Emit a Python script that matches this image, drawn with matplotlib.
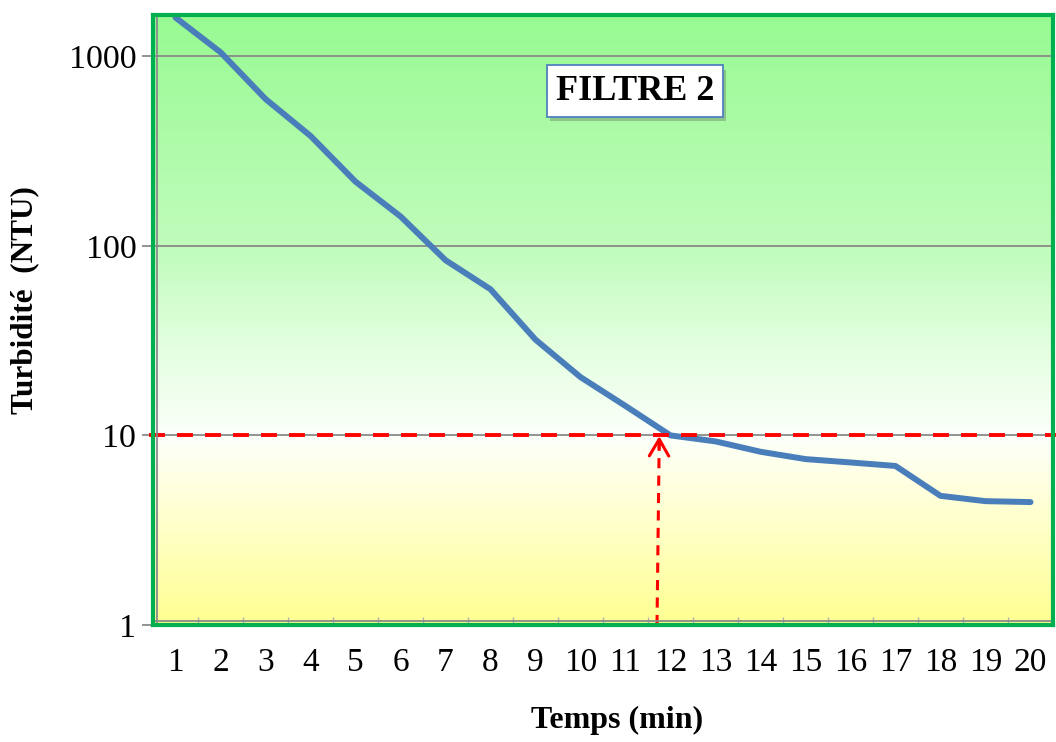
import numpy as np
import matplotlib
matplotlib.use("Agg")
import matplotlib.pyplot as plt
from matplotlib.colors import LinearSegmentedColormap
import matplotlib.patheffects as pe

# Turbidity measured at the outlet of filter 2
minutes = list(range(1, 21))
turbidity = [1600, 1050, 595, 380, 218, 143, 84, 59, 32, 20.3,
             14.3, 10.0, 9.3, 8.2, 7.5, 7.2, 6.9, 4.8, 4.5, 4.45]
y_ticks = [1, 10, 100, 1000]
threshold = 10          # NTU limit
threshold_time = 11.7   # time the limit is reached

plt.rcParams['font.family'] = ['Liberation Serif', 'DejaVu Serif']

fig = plt.figure(figsize=(10.56, 7.42), dpi=100)
ax = fig.add_axes([153 / 1056, 1 - 625 / 742, 900 / 1056, 610 / 742])

# background gradient: yellow at the bottom, white near the limit, green at the top
stops = [(0.00, (255, 255, 145)),
         (0.25, (255, 255, 232)),
         (0.31, (252, 255, 250)),
         (0.45, (228, 255, 225)),
         (0.62, (192, 252, 188)),
         (1.00, (152, 250, 146))]
cmap = LinearSegmentedColormap.from_list(
    "bg", [(p, tuple(c / 255 for c in col)) for p, col in stops])
grad = np.linspace(0, 1, 512).reshape(-1, 1)
ax.imshow(grad, cmap=cmap, aspect="auto", origin="lower",
          extent=[0, 1, 0, 1], transform=ax.transAxes, zorder=0)

ax.set_yscale("log")
ax.set_xlim(0.5, 20.5)
ax.set_ylim(1, 1650)

# horizontal gridlines
for v in y_ticks[1:]:
    ax.axhline(v, color="#8a8a8a", lw=1.3, zorder=1)

# turbidity curve
ax.plot(minutes, turbidity, color="#4a7ebb", lw=4.3,
        solid_capstyle="round", solid_joinstyle="round", zorder=3)

# threshold line and arrow down to the time axis
ax.plot([0.4, 20.56], [threshold, threshold], color="#ff0000", lw=2.8,
        dashes=(4.1, 3.1), clip_on=False, zorder=4)
ax.plot([threshold_time, threshold_time + 0.05], [1.0, threshold * 0.97],
        color="#ff0000", lw=2.2, dashes=(3.3, 2.4), zorder=4)
ax.annotate("", xy=(threshold_time + 0.05, threshold * 0.99),
            xytext=(threshold_time + 0.047, threshold * 0.85),
            arrowprops=dict(arrowstyle="->,head_length=1.2,head_width=0.7",
                            color="#ff0000", lw=2.2,
                            shrinkA=0, shrinkB=0),
            zorder=4)

# axes styling
ax.set_yticks(y_ticks)
ax.set_yticklabels([str(v) for v in y_ticks], fontsize=24.5)
ax.yaxis.set_minor_locator(matplotlib.ticker.NullLocator())
ax.tick_params(axis="y", length=8, width=1.3, color="#8a8a8a", pad=4)

ax.set_xticks(minutes)
ax.set_xticklabels([str(m) for m in minutes], fontsize=24)
ax.tick_params(axis="x", length=0, pad=16)
ax.set_xticks(np.arange(0.5, 21, 1), minor=True)
ax.tick_params(axis="x", which="minor", direction="in", length=6,
               width=1, color="#b0b0b0")

for s in ax.spines.values():
    s.set_color("#00b050")
    s.set_linewidth(3)
    s.set_zorder(6)

# gray axis lines just inside the border
ax.plot([0.004, 0.004], [0, 1], color="#8a8a8a", lw=1.3,
        transform=ax.transAxes, zorder=5)
ax.plot([0, 1], [0.006, 0.006], color="#8a8a8a", lw=1.3,
        transform=ax.transAxes, zorder=5)

# title box
fig.text(635 / 1056, 1 - 91 / 742, "FILTRE 2", fontsize=26, fontweight="bold",
         ha="center", va="center", zorder=10,
         bbox=dict(boxstyle="square,pad=0.25", facecolor="white",
                   edgecolor="#4f81bd", lw=1.3,
                   path_effects=[pe.SimplePatchShadow(offset=(2, -3),
                                                      alpha=0.3),
                                 pe.Normal()]))

fig.text(25 / 1056, 1 - 300 / 742, "Turbidité  (NTU)", fontsize=22.5,
         fontweight="bold", rotation=90, ha="center", va="center")
fig.text(617 / 1056, 1 - 720 / 742, "Temps (min)", fontsize=23,
         fontweight="bold", ha="center", va="center")

fig.savefig("out.png", dpi=100)
